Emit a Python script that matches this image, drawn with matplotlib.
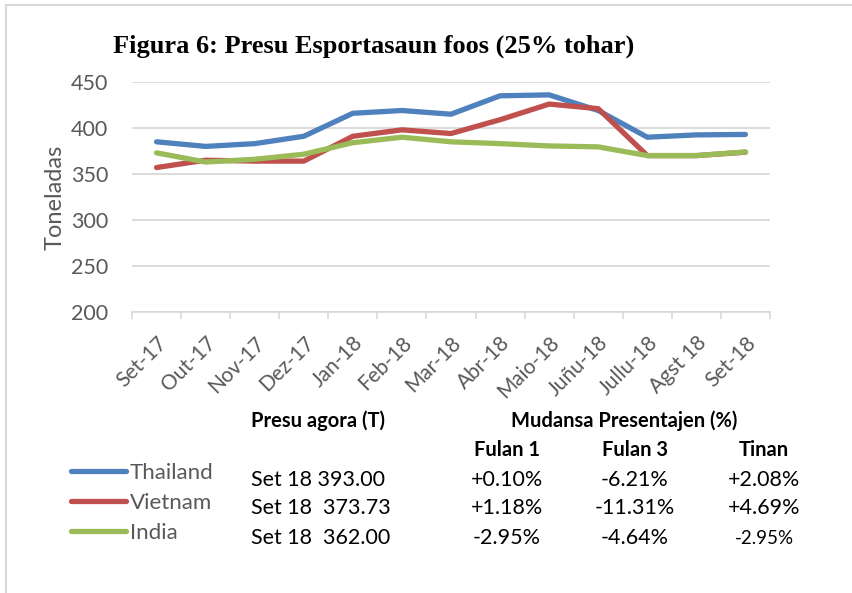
import matplotlib
matplotlib.use("Agg")
import matplotlib.pyplot as plt
from matplotlib.lines import Line2D

# data
months = ["Set-17", "Out-17", "Nov-17", "Dez-17", "Jan-18", "Feb-18", "Mar-18",
          "Abr-18", "Maio-18", "Juñu-18", "Jullu-18", "Agst 18", "Set-18"]
thailand = [385, 380, 383, 391, 416, 419, 415, 435, 436, 419, 390, 392.5, 393]
vietnam = [357, 365, 364, 364, 391, 398, 394, 409, 426, 421, 370, 370, 373.7]
india = [373, 363, 366, 371.5, 384, 390, 385, 383, 380.5, 379.5, 370, 370, 374]

series_names = ["Thailand", "Vietnam", "India"]
colors = ["#4F81BD", "#C0504D", "#9BBB59"]

price_rows = ["Set 18 393.00", "Set 18  373.73", "Set 18  362.00"]
change_cols = ["Fulan 1", "Fulan 3", "Tinan"]
changes = [["+0.10%", "-6.21%", "+2.08%"],
           ["+1.18%", "-11.31%", "+4.69%"],
           ["-2.95%", "-4.64%", "-2.95%"]]

W, H = 852, 593
gray = "#595959"
plt.rcParams["font.family"] = ["Lato", "DejaVu Sans"]

fig = plt.figure(figsize=(W / 100, H / 100), dpi=100)


def fx(px):
    return px / W


def fy(py):
    return 1 - py / H


ax = fig.add_axes([fx(132), fy(312), fx(770) - fx(132), fy(82) - fy(312)])

x = range(len(months))
handles = []
for vals, name, c in zip([thailand, vietnam, india], series_names, colors):
    ln, = ax.plot(x, vals, color=c, lw=3.8, label=name, solid_capstyle="round")
    handles.append(ln)

ax.set_ylim(200, 450)
ax.set_yticks([200, 250, 300, 350, 400, 450])
ax.set_xlim(-0.5, len(months) - 0.5)
ax.set_xticks(list(x))
ax.set_xticklabels(months, rotation=45, ha="right", va="top", rotation_mode="anchor")
ax.set_xticks([i - 0.5 for i in range(len(months) + 1)], minor=True)
ax.tick_params(axis="x", which="major", length=0, pad=15, labelsize=15, labelcolor=gray)
ax.tick_params(axis="x", which="minor", length=5, width=1.2, color="#D9D9D9")
ax.tick_params(axis="y", length=0, pad=17, labelsize=15.5, labelcolor=gray)
ax.grid(axis="y", color="#D9D9D9", lw=1.3)
ax.set_axisbelow(True)
for s in ["top", "right", "left"]:
    ax.spines[s].set_visible(False)
ax.spines["bottom"].set_color("#D9D9D9")
ax.spines["bottom"].set_linewidth(1.2)
ax.set_ylabel("Toneladas", fontsize=17, color=gray, labelpad=4)

# title
fig.text(fx(113), fy(53), "Figura 6: Presu Esportasaun foos (25% tohar)",
         family="Liberation Serif", fontweight="bold", fontsize=19, va="baseline")

# frame lines of the original picture
fig.add_artist(Line2D([fx(6), fx(6)], [0, fy(5)], color="#D9D9D9", lw=1.5))
fig.add_artist(Line2D([fx(6), 1], [fy(5), fy(5)], color="#D9D9D9", lw=1.5))

# legend
fig.legend(handles=handles, loc="upper left", bbox_to_anchor=(fx(62), fy(454)),
           frameon=False, fontsize=16, handlelength=2.5, handletextpad=0.15,
           labelspacing=0.45, labelcolor=gray, borderaxespad=0)

# table
fig.text(fx(251), fy(421), "Presu agora (T)", fontweight="bold", fontsize=14.5, va="center")
fig.text(fx(624), fy(421), "Mudansa Presentajen (%)", fontweight="bold", fontsize=14.5,
         va="center", ha="center")
col_x = [507, 635, 764]
for cx, name in zip(col_x, change_cols):
    fig.text(fx(cx), fy(450), name, fontweight="bold", fontsize=14.5, va="center", ha="center")
row_y = [480, 508, 538]
for i, ry in enumerate(row_y):
    fig.text(fx(251), fy(ry), price_rows[i], fontsize=15.5, va="center")
    for j, cx in enumerate(col_x):
        size = 13.5 if (i == 2 and j == 2) else 15.5
        fig.text(fx(cx), fy(ry), changes[i][j], fontsize=size, va="center", ha="center")

fig.savefig("out.png", dpi=100)
